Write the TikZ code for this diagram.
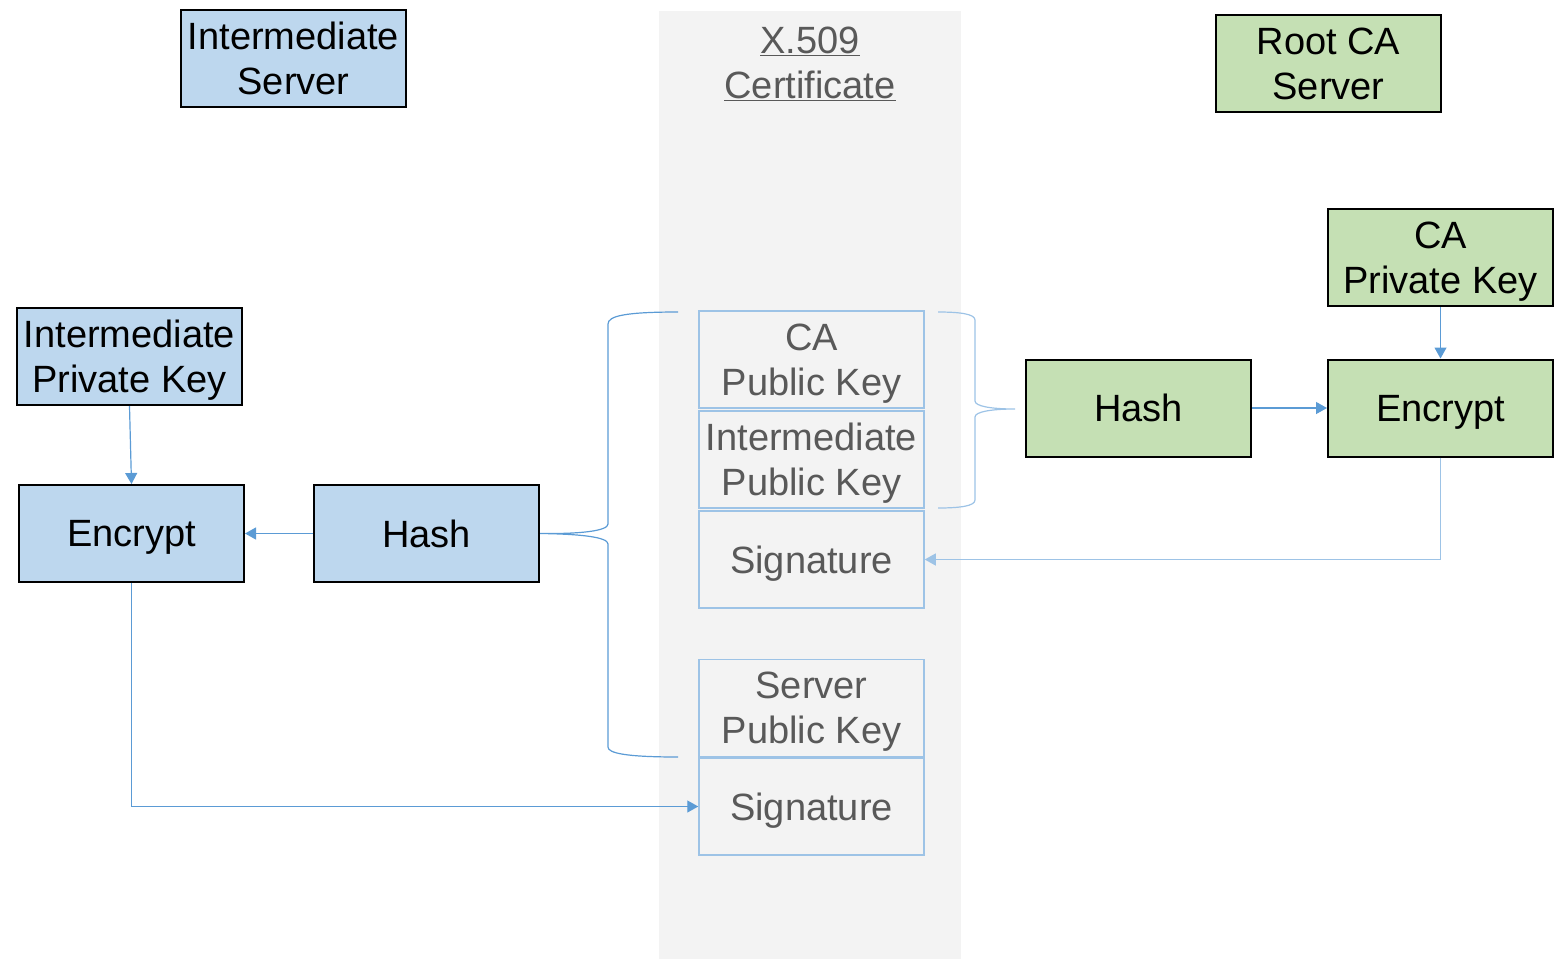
\documentclass[tikz,border=0pt]{standalone}
\usepackage{fontspec}
\setmainfont{Liberation Sans}
\usepackage{xcolor}
\usetikzlibrary{arrows.meta}
\definecolor{srvblue}{HTML}{BDD7EE}
\definecolor{cagreen}{HTML}{C5E0B4}
\definecolor{certgray}{HTML}{F3F3F3}
\definecolor{certline}{HTML}{9DC3E6}
\definecolor{certtext}{HTML}{595959}
\definecolor{linkblue}{HTML}{5B9BD5}
\begin{document}
\begin{tikzpicture}[x=1pt, y=-1pt, >={Triangle[length=11pt,width=12pt]},
  box/.style={draw=black, line width=2pt, minimum width=225pt, minimum height=97pt,
    inner sep=0pt, align=center, text depth=0pt, font=\fontsize{38}{45}\selectfont},
  srv/.style={box, fill=srvblue},
  ca/.style={box, fill=cagreen},
  field/.style={box, draw=certline, line width=1.5pt, fill=certgray, text=certtext},
  link/.style={draw=linkblue, line width=1.2pt}]
\useasboundingbox (0,0) rectangle (1560,959);
\fill[certgray] (659,11) rectangle (961,959);
\node[align=center, text=certtext, text depth=0pt, font=\fontsize{38}{45}\selectfont] (title) at (810,63)
  {\underline{X.509}\\\underline{Certificate}};

\node[srv] (isrv)   at (293.5,58.5)  {Intermediate\\Server};
\node[ca]  (rootca) at (1328.5,63.5) {Root CA\\Server};
\node[ca]  (cakey)  at (1440.5,257.5) {CA\\Private Key};
\node[srv] (ikey)   at (129.5,356.5) {Intermediate\\Private Key};
\node[ca]  (cahash) at (1138.5,408)  {Hash};
\node[ca]  (caenc)  at (1440.5,408)  {Encrypt};
\node[srv] (ienc)   at (131.5,533.5) {Encrypt};
\node[srv] (ihash)  at (426.5,533.5) {Hash};

\node[field] (capub) at (811.5,359.5) {CA\\Public Key};
\node[field] (ipub)  at (811.5,459.5) {Intermediate\\Public Key};
\node[field] (isig)  at (811.5,559.5) {Signature};
\node[field] (spub)  at (811.5,708)   {Server\\Public Key};
\node[field] (ssig)  at (811.5,806.5) {Signature};

\draw[link,->] (ikey.south) -- (ienc.north);
\draw[link,->] (ihash.west) -- (ienc.east);
\draw[link,->] (ienc.south) |- (ssig.west);
\draw[link,->] (cakey.south) -- (caenc.north);
\draw[link,->] (cahash.east) -- (caenc.west);
\draw[link,draw=certline,->] (caenc.south) |- (isig.east);

% braces
\coordinate (lbtop) at (678,312);
\coordinate (lbbot) at (678,757);
\draw[link] (lbtop) .. controls (625,312) and (608,316) .. (608,324) -- (608,524)
  .. controls (608,531) and (580,534) .. (ihash.east)
  .. controls (580,534) and (608,537) .. (608,544) -- (608,747)
  .. controls (608,753) and (625,757) .. (lbbot);
\coordinate (rbtop) at (938,312);
\coordinate (rbtip) at (1015,409);
\coordinate (rbbot) at (938,508);
\draw[link,draw=certline] (rbtop) .. controls (960,312) and (975,314) .. (975,320) -- (975,401)
  .. controls (975,406) and (990,409) .. (rbtip)
  .. controls (990,409) and (975,412) .. (975,417) -- (975,500)
  .. controls (975,506) and (960,508) .. (rbbot);
\end{tikzpicture}
\end{document}
